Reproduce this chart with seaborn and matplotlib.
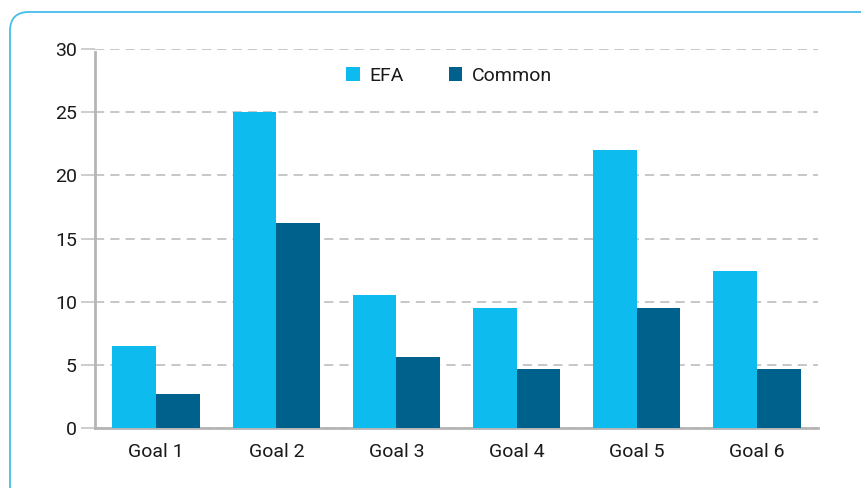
import pandas as pd
import matplotlib.pyplot as plt
import seaborn as sns
from matplotlib.patches import FancyBboxPatch

goals = ['Goal 1', 'Goal 2', 'Goal 3', 'Goal 4', 'Goal 5', 'Goal 6']
efa = [6.5, 25.0, 10.5, 9.5, 22.0, 12.4]
common = [2.7, 16.2, 5.6, 4.7, 9.5, 4.7]

df = pd.DataFrame({
    'Goal': goals * 2,
    'Value': efa + common,
    'Series': ['EFA'] * len(goals) + ['Common'] * len(goals),
})

sns.set_style('white')
plt.rcParams['font.family'] = ['Roboto', 'DejaVu Sans']

fig = plt.figure(figsize=(8.61, 4.88), dpi=100)
ax = fig.add_axes([95 / 861, 60 / 488, 723 / 861, 379 / 488])

# rounded frame around the chart, running off the right and bottom edges
frame = FancyBboxPatch((10 / 861, -0.2), 1.2, 1.2 - 12 / 488,
                       boxstyle='round,pad=0,rounding_size=0.022',
                       transform=fig.transFigure, fill=False,
                       edgecolor='#45bdea', linewidth=1.3, clip_on=False,
                       mutation_aspect=861 / 488)
fig.patches.append(frame)

sns.barplot(data=df, x='Goal', y='Value', hue='Series',
            palette={'EFA': '#0ebbee', 'Common': '#00628c'},
            width=0.73, saturation=1, linewidth=0, ax=ax, zorder=3)

ax.set_ylim(0, 30)
ax.set_xlim(-0.51, 5.51)
ax.set_yticks(range(0, 31, 5))
ax.set_xlabel('')
ax.set_ylabel('')

ax.yaxis.grid(True, color='#b8b8b8', linestyle=(0, (6, 4)), linewidth=1.1, zorder=0)
ax.set_axisbelow(True)
for s in ['top', 'right']:
    ax.spines[s].set_visible(False)
for s in ['left', 'bottom']:
    ax.spines[s].set_color('#b5b5b5')
    ax.spines[s].set_linewidth(2)
ax.spines['left'].set_bounds(0, 29.8)

ax.tick_params(axis='y', left=True, length=10, color='#c0c0c0', width=1.1,
               labelsize=14, labelcolor='#1a1a1a', pad=3)
ax.tick_params(axis='x', length=0, labelsize=14, labelcolor='#1a1a1a', pad=11)

ax.legend(loc='center', bbox_to_anchor=(0.49, 0.929), ncol=2, frameon=False,
          fontsize=14, labelcolor='#1a1a1a', handlelength=0.7, handleheight=0.7,
          columnspacing=2.3, handletextpad=0.5)

fig.savefig('out.png', dpi=100)
